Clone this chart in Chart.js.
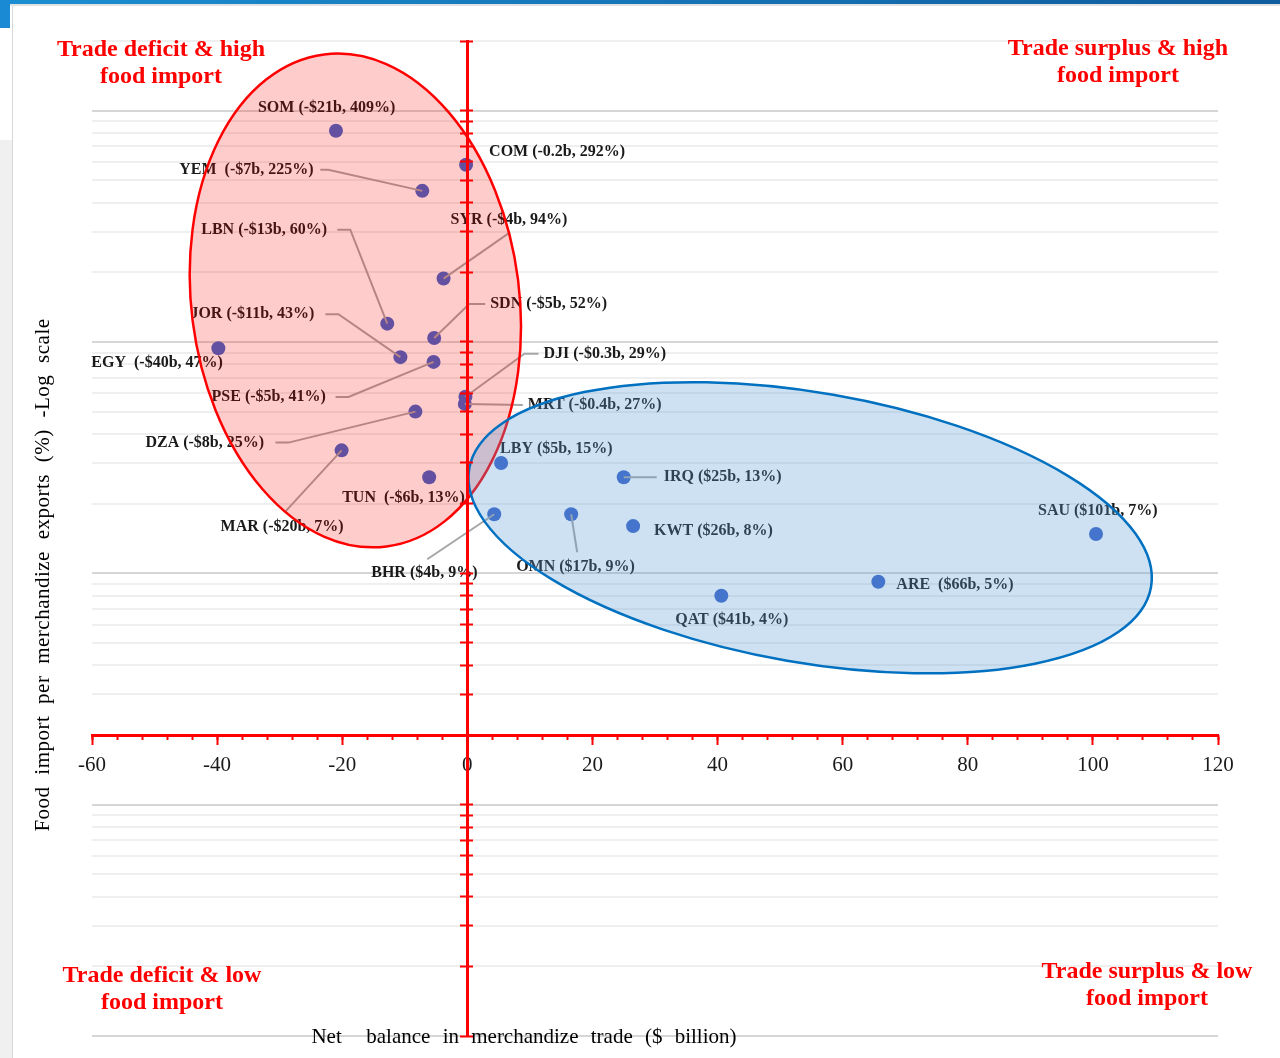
<!DOCTYPE html>
<html>
<head>
<meta charset="utf-8">
<script src="https://cdn.jsdelivr.net/npm/chart.js@4.4.1/dist/chart.umd.min.js"></script>
<style>
  body { margin: 0; background: #fff; }
  #wrap { position: relative; width: 1280px; height: 1058px; overflow: hidden; background: #fff; }
  #chart { position: absolute; left: 0; top: 0; }
  .quad { position: absolute; width: 320px; text-align: center; color: #ff0000;
          font: bold 24px "Liberation Serif", serif; line-height: 27px; }
  .axtitle { position: absolute; color: #000; font: 21px "Liberation Serif", serif;
             white-space: pre; text-align: center; line-height: 24px; }
</style>
</head>
<body>
<div id="wrap">
  <div style="position:absolute;left:0;top:0;width:1280px;height:4px;background:linear-gradient(to right,#1b8fd2,#0f5c9e)"></div>
  <div style="position:absolute;left:0;top:4px;width:1280px;height:2px;background:#e2e2e2"></div>
  <div style="position:absolute;left:0;top:0;width:10px;height:28px;background:#1a8ad4"></div>
  <div style="position:absolute;left:0;top:140px;width:12px;height:918px;background:#f0f0f0"></div>
  <div style="position:absolute;left:12px;top:6px;width:1px;height:1052px;background:#d8d8d8"></div>
  <canvas id="chart" width="1280" height="1058"></canvas>
  <div class="quad" style="left:1px;top:35px">Trade deficit &amp; high<br>food import</div>
  <div class="quad" style="left:958px;top:34px">Trade surplus &amp; high<br>food import</div>
  <div class="quad" style="left:2px;top:961px">Trade deficit &amp; low<br>food import</div>
  <div class="quad" style="left:987px;top:957px">Trade surplus &amp; low<br>food import</div>
  <div class="axtitle" style="left:224px;top:1024px;width:600px;word-spacing:7px">Net  balance in merchandize trade ($ billion)</div>
  <div class="axtitle" style="left:-258px;top:563px;width:600px;transform:rotate(-90deg);word-spacing:6px;letter-spacing:0.5px">Food import per merchandize exports (%) -Log scale</div>
</div>
<script>
// countries, net merchandise trade balance ($ billion) and food import / merchandise exports (%)
const countries = ['SOM','YEM','COM','SYR','LBN','JOR','EGY','SDN','PSE','DJI','MRT',
                   'DZA','MAR','TUN','LBY','IRQ','BHR','OMN','KWT','SAU','ARE','QAT'];
const tradeBalance = [-21, -7.2, -0.2, -3.8, -12.8, -10.7, -39.8, -5.3, -5.4, -0.3, -0.4,
                      -8.3, -20.1, -6.1, 5.4, 25, 4.3, 16.6, 26.5, 100.5, 65.7, 40.6];
const foodImport = [409, 225, 292, 94, 60, 43, 47, 52, 41, 29, 27,
                    25, 17, 13, 15, 13, 9, 9, 8, 7.4, 4.6, 4];
const labelTexts = ['SOM (-$21b, 409%)', 'YEM  (-$7b, 225%)', 'COM (-0.2b, 292%)', 'SYR (-$4b, 94%)',
                    'LBN (-$13b, 60%)', 'JOR (-$11b, 43%)', 'EGY  (-$40b, 47%)', 'SDN (-$5b, 52%)',
                    'PSE (-$5b, 41%)', 'DJI (-$0.3b, 29%)', 'MRT (-$0.4b, 27%)', 'DZA (-$8b, 25%)',
                    'MAR (-$20b, 7%)', 'TUN  (-$6b, 13%)', 'LBY ($5b, 15%)', 'IRQ ($25b, 13%)',
                    'BHR ($4b, 9%)', 'OMN ($17b, 9%)', 'KWT ($26b, 8%)', 'SAU ($101b, 7%)',
                    'ARE  ($66b, 5%)', 'QAT ($41b, 4%)'];
const xTickValues = [-60, -40, -20, 0, 20, 40, 60, 80, 100, 120];
const xMinorStep = 4;
const yMin = 0.05, yMax = 1000;
const yGridBases = [0.05, 0.5, 5, 50, 500];
const yGridSteps = [1, 2, 3, 4, 5, 6, 7, 8, 9];

// label placement, pixel offsets from the point
const labelLayout = [
  {dx: -78, dy: -23},
  {dx: -243, dy: -21, lead: [[-102, -21], [-94, -21], [0, 0]]},
  {dx: 23, dy: -13},
  {dx: 7, dy: -59, lead: [[0, 0], [66, -46]]},
  {dx: -186, dy: -94, lead: [[-50, -94], [-37, -94], [0, 0]]},
  {dx: -210, dy: -43, lead: [[-75, -43], [-62, -43], [0, 0]]},
  {dx: -127, dy: 15},
  {dx: 56, dy: -34, lead: [[0, 0], [35, -34], [51, -34]]},
  {dx: -222, dy: 35, lead: [[-98, 35], [-85, 35], [0, 0]]},
  {dx: 78, dy: -43, lead: [[0, 0], [59, -43], [73, -43]]},
  {dx: 63, dy: 1, lead: [[0, 0], [58, 1]]},
  {dx: -270, dy: 31, lead: [[-140, 31], [-127, 31], [0, 0]]},
  {dx: -121, dy: 76, lead: [[0, 0], [-57, 62]]},
  {dx: -87, dy: 21},
  {dx: -1, dy: -14},
  {dx: 40, dy: 0, lead: [[0, 0], [33, 0]]},
  {dx: -123, dy: 59, lead: [[0, 0], [-67, 45]]},
  {dx: -55, dy: 53, lead: [[0, 0], [6, 38]]},
  {dx: 21, dy: 5},
  {dx: -58, dy: -23},
  {dx: 18, dy: 3},
  {dx: -46, dy: 24},
];

// highlighted groups: centre in data units, radii in pixels
const zones = [
  {x: -17.9, y: 75.6, rx: 164, ry: 248, rot: -0.126, fill: 'rgba(255,0,0,0.2)', stroke: '#ff0000'},
  {x: 54.8, y: 7.87, rx: 346, ry: 135, rot: 0.172, fill: 'rgba(91,155,213,0.3)', stroke: '#0070c0'},
];

const points = countries.map((c, i) => ({x: tradeBalance[i], y: foodImport[i]}));

function setLogTicks(axis) {
  const t = [];
  yGridBases.forEach(b => yGridSteps.forEach(k => {
    const v = +(b * k).toPrecision(3);
    if (v <= yMax) t.push({value: v, major: k === 1});
  }));
  axis.ticks = t;
}
function isMajor(v) {
  return yGridBases.some(b => Math.abs(v - b) < b * 1e-6);
}

const annotate = {
  id: 'annotate',
  afterDatasetsDraw(chart) {
    const ctx = chart.ctx;
    const x = chart.scales.x, y = chart.scales.y;
    const meta = chart.getDatasetMeta(0);
    ctx.save();
    ctx.strokeStyle = '#a6a6a6';
    ctx.lineWidth = 2;
    meta.data.forEach((pt, i) => {
      const lead = labelLayout[i].lead;
      if (!lead) return;
      ctx.beginPath();
      lead.forEach(([dx, dy], j) => j ? ctx.lineTo(pt.x + dx, pt.y + dy) : ctx.moveTo(pt.x + dx, pt.y + dy));
      ctx.stroke();
    });
    ctx.font = 'bold 16px "Liberation Serif"';
    ctx.fillStyle = '#1a1a1a';
    ctx.textBaseline = 'middle';
    ctx.textAlign = 'left';
    meta.data.forEach((pt, i) => {
      ctx.fillText(labelTexts[i], pt.x + labelLayout[i].dx, pt.y + labelLayout[i].dy);
    });
    zones.forEach(z => {
      ctx.beginPath();
      ctx.ellipse(x.getPixelForValue(z.x), y.getPixelForValue(z.y), z.rx, z.ry, z.rot, 0, Math.PI * 2);
      ctx.fillStyle = z.fill;
      ctx.fill();
      ctx.lineWidth = 2.5;
      ctx.strokeStyle = z.stroke;
      ctx.stroke();
    });
    ctx.restore();
  }
};

const ctx = document.getElementById('chart').getContext('2d');
new Chart(ctx, {
  type: 'scatter',
  data: {
    datasets: [{
      data: points,
      pointRadius: 7,
      pointHoverRadius: 7,
      backgroundColor: '#3c64c8',
      borderWidth: 0,
    }]
  },
  options: {
    responsive: false,
    animation: false,
    events: [],
    layout: {padding: {left: 92, top: 41, right: 62, bottom: 22}},
    plugins: {legend: {display: false}, tooltip: {enabled: false}},
    scales: {
      x: {
        type: 'linear', axis: 'x', min: -60, max: 120,
        position: {y: 1},
        afterBuildTicks: axis => { axis.ticks = xTickValues.map(v => ({value: v})); },
        border: {color: '#ff0000', width: 3, z: 1},
        grid: {drawOnChartArea: false, tickLength: 8, tickColor: '#ff0000', tickWidth: 2, z: 1},
        ticks: {autoSkip: false, padding: 10, color: '#1a1a1a', font: {family: 'Liberation Serif', size: 21}},
      },
      x2: {
        type: 'linear', axis: 'x', min: -60, max: 120,
        position: {y: 1},
        border: {display: false},
        grid: {drawOnChartArea: false, tickLength: 5, tickColor: '#ff0000', tickWidth: 2, z: 1},
        ticks: {display: false, stepSize: xMinorStep, autoSkip: false},
      },
      y: {
        type: 'logarithmic', axis: 'y', min: yMin, max: yMax,
        position: {x: 0},
        afterBuildTicks: setLogTicks,
        border: {color: '#ff0000', width: 3, z: 1},
        grid: {
          drawTicks: false, lineWidth: 2,
          color: c => isMajor(c.tick.value) ? '#d6d6d6' : '#efefef',
        },
        ticks: {display: false},
      },
      yt: {
        type: 'logarithmic', axis: 'y', min: yMin, max: yMax,
        position: {x: 0.96},
        afterBuildTicks: setLogTicks,
        border: {display: false},
        grid: {drawOnChartArea: false, tickLength: 13, tickColor: '#ff0000', tickWidth: 2, z: 1},
        ticks: {display: false},
      },
    }
  },
  plugins: [annotate]
});
</script>
</body>
</html>
